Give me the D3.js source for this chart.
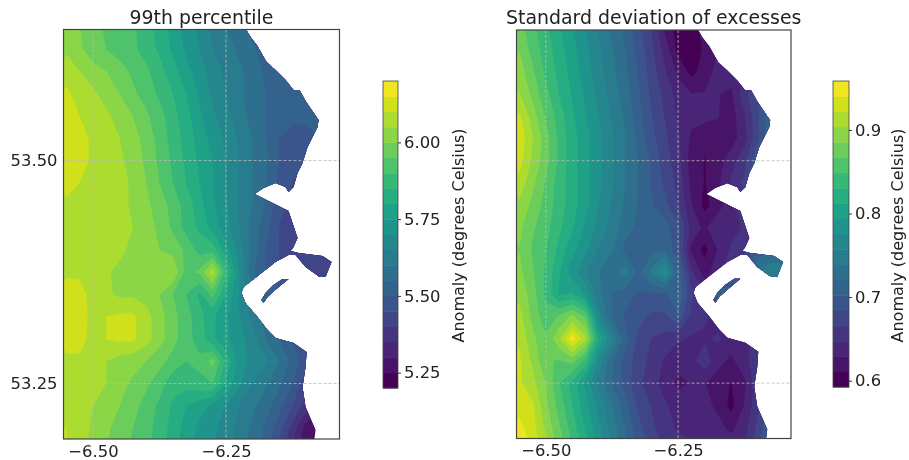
<!DOCTYPE html>
<html>
<head>
<meta charset="utf-8">
<script src="https://cdn.jsdelivr.net/npm/d3@7"></script>
<style>
  html, body { margin: 0; padding: 0; background: #fff; }
  svg { filter: blur(0.4px); }
  text { font-family: "DejaVu Sans", sans-serif; fill: #222; }
</style>
</head>
<body>
<svg id="chart" width="909" height="460"></svg>
<script>
// grid nodes, west to east and north to south
const gridLon = [-6.55,-6.525,-6.5,-6.475,-6.45,-6.425,-6.4,-6.375,-6.35,-6.325,-6.3,-6.275,-6.25,-6.225,-6.2,-6.175,-6.15,-6.125,-6.1,-6.075,-6.05];
const gridLat = [53.65,53.625,53.6,53.575,53.55,53.525,53.5,53.475,53.45,53.425,53.4,53.375,53.35,53.325,53.3,53.275,53.25,53.225,53.2,53.175];

const p99Values = [
  [6.03,6.00,5.97,5.94,5.92,5.91,5.87,5.83,5.78,5.73,5.69,5.64,5.60,5.57,5.53,5.52,5.51,5.50,5.50,5.50,5.50],
  [6.04,6.01,5.97,5.95,5.93,5.91,5.88,5.84,5.79,5.74,5.70,5.65,5.62,5.59,5.56,5.52,5.50,5.49,5.48,5.48,5.48],
  [6.08,6.05,6.02,6.00,5.97,5.94,5.91,5.87,5.82,5.77,5.72,5.68,5.64,5.61,5.58,5.54,5.50,5.48,5.46,5.46,5.46],
  [6.11,6.08,6.06,6.03,6.00,5.96,5.93,5.89,5.85,5.80,5.74,5.69,5.65,5.61,5.58,5.55,5.53,5.51,5.50,5.50,5.50],
  [6.13,6.10,6.09,6.06,6.03,6.00,5.96,5.92,5.87,5.82,5.76,5.71,5.67,5.62,5.58,5.55,5.53,5.52,5.52,5.53,5.53],
  [6.14,6.12,6.09,6.08,6.05,6.02,5.98,5.93,5.88,5.83,5.78,5.73,5.69,5.64,5.60,5.55,5.50,5.47,5.47,5.50,5.52],
  [6.14,6.12,6.09,6.08,6.06,6.03,5.99,5.94,5.89,5.84,5.79,5.75,5.70,5.65,5.60,5.56,5.50,5.46,5.45,5.47,5.50],
  [6.12,6.10,6.09,6.08,6.07,6.04,6.00,5.95,5.90,5.85,5.80,5.75,5.70,5.65,5.60,5.55,5.49,5.45,5.44,5.45,5.47],
  [6.09,6.09,6.09,6.08,6.07,6.04,6.01,5.98,5.93,5.88,5.82,5.76,5.71,5.65,5.60,5.54,5.47,5.43,5.42,5.44,5.46],
  [6.09,6.09,6.08,6.08,6.07,6.05,6.02,5.99,5.94,5.88,5.84,5.78,5.72,5.65,5.58,5.52,5.45,5.41,5.40,5.42,5.44],
  [6.08,6.08,6.08,6.07,6.07,6.03,6.02,6.00,5.98,5.94,5.88,5.88,5.77,5.68,5.58,5.50,5.45,5.42,5.42,5.42,5.42],
  [6.09,6.09,6.08,6.06,6.03,6.02,6.02,6.02,6.05,5.93,5.96,6.08,5.87,5.70,5.56,5.50,5.45,5.42,5.42,5.42,5.42],
  [6.13,6.12,6.08,6.06,6.04,6.04,6.03,6.00,5.95,5.90,5.84,5.92,5.80,5.70,5.62,5.52,5.52,5.50,5.45,5.42,5.42],
  [6.13,6.13,6.08,6.10,6.11,6.11,6.07,6.02,5.97,5.92,5.87,5.81,5.76,5.70,5.63,5.58,5.53,5.50,5.47,5.45,5.45],
  [6.12,6.12,6.08,6.10,6.11,6.11,6.07,6.02,5.97,5.92,5.88,5.81,5.76,5.72,5.67,5.60,5.55,5.50,5.47,5.45,5.45],
  [6.09,6.09,6.08,6.05,6.03,6.02,6.00,5.97,5.93,5.90,5.91,5.97,5.84,5.73,5.68,5.66,5.60,5.53,5.47,5.42,5.40],
  [6.07,6.07,6.06,6.05,6.02,5.99,5.96,5.92,5.87,5.87,5.89,5.90,5.79,5.71,5.65,5.61,5.56,5.50,5.42,5.38,5.36],
  [6.09,6.08,6.05,6.03,6.00,5.97,5.93,5.89,5.84,5.80,5.77,5.74,5.70,5.65,5.61,5.57,5.52,5.45,5.38,5.30,5.28],
  [6.10,6.08,6.04,6.01,5.98,5.95,5.92,5.88,5.83,5.78,5.74,5.71,5.68,5.63,5.59,5.54,5.47,5.38,5.28,5.24,5.22],
  [6.10,6.07,6.03,6.00,5.97,5.94,5.91,5.87,5.82,5.77,5.73,5.70,5.67,5.62,5.58,5.52,5.44,5.34,5.26,5.22,5.22]
];

const sdValues = [
  [.875,.855,.835,.815,.795,.775,.755,.735,.715,.690,.665,.625,.600,.600,.620,.630,.640,.640,.650,.650,.650],
  [.885,.860,.840,.820,.800,.780,.760,.740,.720,.695,.670,.640,.605,.595,.615,.630,.640,.640,.650,.650,.650],
  [.895,.870,.845,.825,.805,.785,.765,.745,.725,.700,.675,.650,.625,.605,.620,.635,.640,.640,.650,.660,.660],
  [.905,.880,.855,.830,.810,.790,.770,.750,.730,.705,.680,.660,.640,.630,.630,.630,.625,.660,.680,.700,.700],
  [.925,.895,.865,.840,.815,.795,.775,.755,.735,.710,.685,.665,.645,.635,.635,.630,.620,.645,.680,.720,.720],
  [.935,.905,.875,.845,.820,.800,.780,.760,.740,.715,.690,.670,.650,.625,.615,.620,.620,.640,.680,.720,.720],
  [.930,.900,.875,.845,.820,.800,.780,.760,.740,.720,.700,.675,.655,.620,.610,.620,.640,.660,.700,.720,.720],
  [.915,.890,.865,.840,.820,.800,.780,.760,.740,.720,.700,.680,.660,.625,.610,.625,.650,.670,.700,.720,.720],
  [.900,.880,.860,.840,.820,.800,.775,.755,.735,.720,.705,.690,.665,.630,.605,.620,.640,.660,.690,.710,.710],
  [.890,.870,.855,.835,.815,.790,.770,.750,.730,.715,.710,.710,.690,.640,.625,.645,.640,.650,.680,.700,.700],
  [.885,.865,.850,.825,.800,.780,.755,.740,.715,.710,.715,.720,.690,.625,.605,.630,.650,.660,.700,.730,.730],
  [.890,.870,.845,.815,.785,.760,.740,.725,.750,.715,.745,.780,.715,.650,.620,.640,.670,.700,.740,.745,.745],
  [.900,.875,.845,.810,.815,.790,.745,.720,.710,.700,.700,.700,.720,.670,.650,.720,.720,.700,.700,.720,.720],
  [.910,.880,.855,.870,.890,.865,.765,.720,.700,.690,.680,.680,.700,.660,.650,.640,.630,.640,.660,.680,.680],
  [.920,.890,.870,.900,.950,.910,.810,.760,.710,.680,.665,.660,.650,.645,.645,.650,.640,.640,.660,.680,.680],
  [.925,.900,.870,.865,.875,.840,.770,.725,.695,.675,.660,.645,.635,.640,.660,.635,.625,.640,.660,.690,.690],
  [.925,.910,.885,.850,.825,.790,.750,.720,.695,.670,.655,.640,.625,.630,.630,.620,.610,.625,.660,.700,.700],
  [.935,.925,.890,.860,.830,.800,.770,.740,.710,.680,.665,.650,.640,.640,.635,.625,.605,.630,.660,.700,.700],
  [.945,.930,.900,.870,.840,.810,.780,.750,.720,.690,.670,.655,.645,.645,.640,.635,.625,.640,.670,.710,.710],
  [.955,.940,.910,.880,.850,.820,.790,.760,.730,.700,.680,.665,.655,.650,.645,.640,.640,.650,.680,.720,.720]
];

const p99Levels = [5.2,5.25,5.3,5.35,5.4,5.45,5.5,5.55,5.6,5.65,5.7,5.75,5.8,5.85,5.9,5.95,6.0,6.05,6.1,6.15,6.2];
const sdLevels = [.5925,.6108,.6291,.6474,.6657,.684,.7023,.7206,.7389,.7572,.7755,.7938,.8121,.8304,.8487,.867,.8853,.9036,.9219,.9402,.9585];

const p99Ticks = [5.25,5.5,5.75,6.0];
const sdTicks = [0.6,0.7,0.8,0.9];
const lonTicks = [-6.5,-6.25];
const latTicks = [53.5,53.25];

// land outline, the white part is the Irish Sea
const coastLon = [-6.2227,-6.2039,-6.1908,-6.1739,-6.157,-6.1381,-6.1231,-6.1118,-6.1005,-6.0761,-6.078,-6.0968,-6.1062,-6.1156,-6.1231,-6.1325,-6.1381,-6.157,-6.1795,-6.1964,-6.1325,-6.125,-6.1156,-6.1231,-6.1287,-6.1137,-6.0686,-6.0517,-6.063,-6.0742,-6.1005,-6.1193,-6.1325,-6.157,-6.2171,-6.2209,-6.2133,-6.1908,-6.172,-6.157,-6.1231,-6.0986,-6.1005,-6.1062,-6.1005,-6.0817,-6.0855,-6.6,-6.6];
const coastLat = [53.6575,53.6385,53.6284,53.6104,53.6015,53.5902,53.579,53.579,53.5667,53.5454,53.5376,53.5151,53.4972,53.486,53.4703,53.4647,53.4703,53.4748,53.4692,53.4625,53.4434,53.43,53.4132,53.4031,53.3986,53.3963,53.393,53.3862,53.3694,53.3694,53.3806,53.394,53.394,53.3862,53.3582,53.3515,53.3403,53.3246,53.31,53.301,53.2954,53.2853,53.2685,53.2461,53.2237,53.1979,53.1811,53.1811,53.6575];
const bullLon = [-6.1325,-6.1437,-6.1607,-6.1757,-6.1833,-6.1795,-6.172,-6.157];
const bullLat = [53.3672,53.3672,53.3605,53.3515,53.3437,53.3403,53.347,53.355];

const lonDomain = [-6.5554,-6.0367];
const latDomain = [53.1878,53.6469];

const svg = d3.select('#chart');

const drawPanel = (props) => {
  const { id, title, values, levels, ticks, tickFormat, frame, bar } = props;

  const xScale = d3.scaleLinear().domain(lonDomain).range([frame.left, frame.right]);
  const yScale = d3.scaleLinear().domain(latDomain).range([frame.bottom, frame.top]);

  // d3.contours puts node i at i + 0.5
  const colToLon = d3.scaleLinear().domain([0.5, gridLon.length - 0.5]).range([gridLon[0], gridLon[gridLon.length - 1]]);
  const rowToLat = d3.scaleLinear().domain([0.5, gridLat.length - 0.5]).range([gridLat[0], gridLat[gridLat.length - 1]]);

  const path = d3.geoPath(d3.geoTransform({
    point(x, y) { this.stream.point(xScale(colToLon(x)), yScale(rowToLat(y))); }
  }));

  const color = i => d3.interpolateViridis(0.98 * i / (levels.length - 2));

  const coastLine = d3.line().x(d => xScale(d[0])).y(d => yScale(d[1]));
  const clip = svg.append('clipPath').attr('id', id + '-land');
  clip.append('path').attr('d', coastLine(d3.zip(coastLon, coastLat)) + 'Z');
  clip.append('path').attr('d', coastLine(d3.zip(bullLon, bullLat)) + 'Z');

  const frameClip = svg.append('clipPath').attr('id', id + '-frame');
  frameClip.append('rect')
    .attr('x', frame.left).attr('y', frame.top)
    .attr('width', frame.right - frame.left).attr('height', frame.bottom - frame.top);

  const contours = d3.contours()
    .size([gridLon.length, gridLat.length])
    .thresholds(levels.slice(0, -1))(values.flat());

  svg.append('g').attr('clip-path', `url(#${id}-frame)`)
    .append('g').attr('clip-path', `url(#${id}-land)`)
    .selectAll('path').data(contours).enter().append('path')
      .attr('d', path)
      .attr('fill', (d, i) => color(i));

  // grid lines
  const grid = svg.append('g')
    .attr('stroke', '#bbb')
    .attr('stroke-width', 0.8)
    .attr('stroke-dasharray', '3,2');
  grid.selectAll('.lon').data(lonTicks).enter().append('line')
    .attr('x1', d => xScale(d)).attr('x2', d => xScale(d))
    .attr('y1', frame.top).attr('y2', frame.bottom);
  grid.selectAll('.lat').data(latTicks).enter().append('line')
    .attr('x1', frame.left).attr('x2', frame.right)
    .attr('y1', d => yScale(d)).attr('y2', d => yScale(d));

  svg.append('rect')
    .attr('x', frame.left).attr('y', frame.top)
    .attr('width', frame.right - frame.left).attr('height', frame.bottom - frame.top)
    .attr('fill', 'none').attr('stroke', '#444').attr('stroke-width', 1.2);

  const xAxis = d3.axisBottom(xScale).tickValues(lonTicks).tickSize(0).tickPadding(6).tickFormat(d3.format('.2f'));
  const xAxisG = svg.append('g').attr('transform', `translate(0,${frame.bottom})`).call(xAxis);
  xAxisG.selectAll('.domain').remove();
  xAxisG.selectAll('text').style('font-size', '16.4px');

  if (props.showLat) {
    const yAxis = d3.axisLeft(yScale).tickValues(latTicks).tickSize(0).tickPadding(6).tickFormat(d3.format('.2f'));
    const yAxisG = svg.append('g').attr('transform', `translate(${frame.left},0)`).call(yAxis);
    yAxisG.selectAll('.domain').remove();
    yAxisG.selectAll('text').style('font-size', '16.4px');
  }

  svg.append('text')
    .attr('x', (frame.left + frame.right) / 2)
    .attr('y', frame.top - 6)
    .attr('text-anchor', 'middle')
    .style('font-size', '18.9px')
    .text(title);

  // colour bar
  const barScale = d3.scaleLinear()
    .domain([levels[0], levels[levels.length - 1]])
    .range([bar.bottom, bar.top]);
  svg.append('g').selectAll('rect').data(levels.slice(0, -1)).enter().append('rect')
    .attr('x', bar.left)
    .attr('width', bar.right - bar.left)
    .attr('y', (d, i) => barScale(levels[i + 1]))
    .attr('height', (d, i) => barScale(levels[i]) - barScale(levels[i + 1]) + 0.5)
    .attr('fill', (d, i) => color(i));
  svg.append('rect')
    .attr('x', bar.left).attr('y', bar.top)
    .attr('width', bar.right - bar.left).attr('height', bar.bottom - bar.top)
    .attr('fill', 'none').attr('stroke', '#444').attr('stroke-width', 0.8);

  const barAxis = d3.axisRight(barScale).tickValues(ticks).tickSize(3).tickPadding(3).tickFormat(d3.format(tickFormat));
  const barAxisG = svg.append('g').attr('transform', `translate(${bar.right},0)`).call(barAxis);
  barAxisG.selectAll('.domain').remove();
  barAxisG.selectAll('line').attr('stroke', '#333');
  barAxisG.selectAll('text').style('font-size', '16.4px');

  svg.append('text')
    .attr('transform', `translate(${bar.labelX},${bar.labelY}) rotate(-90)`)
    .attr('text-anchor', 'middle')
    .style('font-size', '16px')
    .text('Anomaly (degrees Celsius)');
};

drawPanel({
  id: 'p99',
  title: '99th percentile',
  values: p99Values,
  levels: p99Levels,
  ticks: p99Ticks,
  tickFormat: '.2f',
  showLat: true,
  frame: { left: 63.5, right: 339.5, top: 29.5, bottom: 439 },
  bar: { left: 383, right: 398, top: 81, bottom: 388, labelX: 464, labelY: 235.5 }
});

drawPanel({
  id: 'sd',
  title: 'Standard deviation of excesses',
  values: sdValues,
  levels: sdLevels,
  ticks: sdTicks,
  tickFormat: '.1f',
  showLat: false,
  frame: { left: 516.5, right: 791, top: 30, bottom: 438.5 },
  bar: { left: 833, right: 849, top: 81, bottom: 387, labelX: 903, labelY: 235.5 }
});
</script>
</body>
</html>
